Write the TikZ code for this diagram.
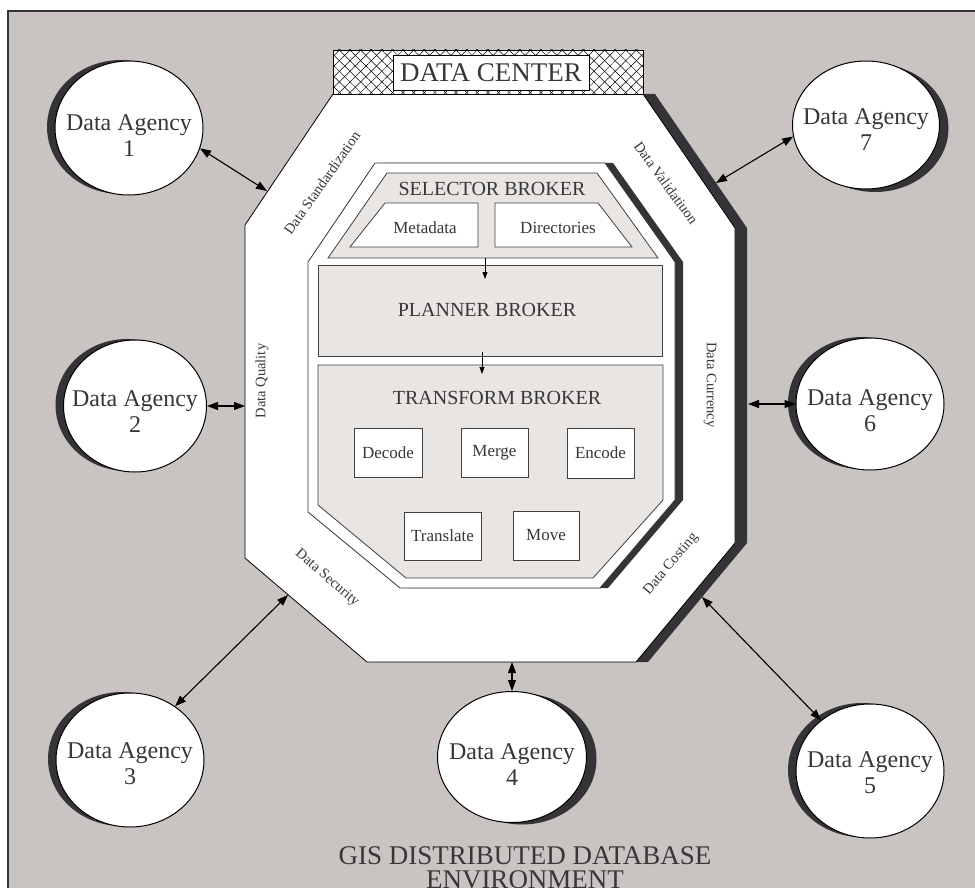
\documentclass[tikz,border=0pt]{standalone}
\usepackage{fontspec}
\setmainfont{Liberation Serif}
\usetikzlibrary{arrows.meta,patterns.meta,shapes.geometric}
\definecolor{bg}{RGB}{201,195,193}
\definecolor{lite}{RGB}{233,229,227}
\definecolor{dk}{RGB}{52,51,56}
\definecolor{txt}{RGB}{55,55,58}
\tikzset{
  agency/.style={ellipse, draw=black, fill=white, line width=1pt, inner sep=0pt},
  agshadow/.style={ellipse, fill=dk, inner sep=0pt},
  agtext/.style={align=center, font=\fontsize{24}{26}\selectfont, text=txt, inner sep=0pt},
  dblarrow/.style={{Triangle[length=11pt,width=8pt]}-{Triangle[length=11pt,width=8pt]}, line width=1.1pt, draw=black},
  smallarrow/.style={-{Triangle[length=7pt,width=5pt]}, line width=0.8pt},
  tbox/.style={draw=black!75, fill=white, line width=0.8pt, font=\fontsize{17}{20}\selectfont, text=txt, inner sep=0pt},
  side/.style={font=\fontsize{14.5}{16}\selectfont, text=txt, inner sep=0pt},
  brokertitle/.style={font=\fontsize{20}{22}\selectfont, text=txt, inner sep=0pt},
  brokerfill/.style={fill=lite, draw=black!75, line width=0.8pt},
  bigtitle/.style={font=\fontsize{27}{26}\selectfont, text=txt, inner sep=0pt},
}
\begin{document}
\begin{tikzpicture}[x=1pt,y=-1pt]
\useasboundingbox (0,0) rectangle (975,888);
\clip (0,0) rectangle (975,888);
\fill[white] (0,0) rectangle (975,888);
\draw[fill=bg, draw=dk, line width=2pt] (8,11) rectangle (990,900);

% outer octagon with shadow
\fill[dk, xshift=12pt] (333,94) -- (643,94) -- (735,228) -- (735,543) -- (636,662) -- (367,662) -- (245,558) -- (245,225) -- cycle;
\draw[fill=white, draw=black, line width=0.8pt] (333,94) -- (643,94) -- (735,228) -- (735,543) -- (636,662) -- (367,662) -- (245,558) -- (245,225) -- cycle;

% data center
\fill[white] (333,50) rectangle (643,94);
\fill[pattern={Lines[angle=45,distance=7.5pt,line width=0.5pt]}, pattern color=black] (333,50) rectangle (643,94);
\fill[pattern={Lines[angle=-45,distance=7.5pt,line width=0.5pt]}, pattern color=black] (333,50) rectangle (643,94);
\draw[black, line width=0.8pt] (333,50) rectangle (643,94);
\draw[fill=white, draw=black, line width=0.8pt] (393,55) rectangle (589,90);
\node[font=\fontsize{27}{28}\selectfont, text=txt, inner sep=0pt] (dc) at (491,73) {DATA CENTER};

% inner octagon with shadow
\fill[dk, xshift=8pt] (375,163) -- (605,163) -- (675,262) -- (675,500) -- (600,588) -- (400,588) -- (308,512) -- (308,262) -- cycle;
\draw[fill=white, draw=black!80, line width=0.8pt] (375,163) -- (605,163) -- (675,262) -- (675,500) -- (600,588) -- (400,588) -- (308,512) -- (308,262) -- cycle;

% selector broker
\draw[brokerfill] (387,173) -- (597,173) -- (658,258) -- (328,258) -- cycle;
\node[brokertitle] (sel) at (492,189) {SELECTOR BROKER};
\draw[fill=white, draw=black!75, line width=0.8pt] (385,203) -- (478,203) -- (478,247) -- (350,247) -- cycle;
\node[font=\fontsize{17}{20}\selectfont, text=txt, inner sep=0pt] (meta) at (425,228) {Metadata};
\draw[fill=white, draw=black!75, line width=0.8pt] (495,203) -- (598,203) -- (632,247) -- (495,247) -- cycle;
\node[font=\fontsize{17}{20}\selectfont, text=txt, inner sep=0pt] (dir) at (558,228) {Directories};

% planner broker
\draw[brokerfill] (318,265) rectangle (662,356);
\node[brokertitle] (plan) at (487,310) {PLANNER BROKER};

% transform broker
\draw[brokerfill] (318,365) -- (663,365) -- (663,500) -- (593,578) -- (406,578) -- (318,505) -- cycle;
\node[brokertitle] (trans) at (497,398) {TRANSFORM BROKER};
\node[tbox, minimum width=68pt, minimum height=49pt] (dec) at (388,452.5) {Decode};
\node[tbox, minimum width=67pt, minimum height=49pt] (mer) at (494.5,452.5) {Merge};
\node[tbox, minimum width=67pt, minimum height=50pt] (enc) at (600.5,453) {Encode};
\node[tbox, minimum width=77pt, minimum height=48pt] (tra) at (442.5,536) {Translate};
\node[tbox, minimum width=66pt, minimum height=49pt] (mov) at (546,535.5) {Move};

% internal arrows
\coordinate (s1) at (485,258);
\coordinate (p1) at (485,279);
\coordinate (p2) at (482,352);
\coordinate (t1) at (482,374);
\draw[smallarrow] (s1) -- (p1);
\draw[smallarrow] (p2) -- (t1);

% side labels
\node[side, rotate=55] (ls) at (322,183) {Data Standardization};
\node[side, rotate=-54] (lv) at (666,183) {Data Validatiuon};
\node[side, rotate=90] (lq) at (262,381) {Data Quality};
\node[side, rotate=-90] (lc) at (710,385) {Data Currency};
\node[side, rotate=-41] (lsec) at (327,578) {Data Security};
\node[side, rotate=50] (lcost) at (671,564) {Data Costing};

% agencies
\node[agshadow, minimum width=148pt, minimum height=134pt] (sh1) at (121,127) {};
\node[agency, minimum width=148pt, minimum height=134pt] (a1) at (129,128) {};
\node[agtext] (t1a) at (129,136) {Data Agency\\1};

\node[agshadow, minimum width=143pt, minimum height=132pt] (sh2) at (127,405) {};
\node[agency, minimum width=143pt, minimum height=132pt] (a2) at (135,406) {};
\node[agtext] (t2a) at (135,412) {Data Agency\\2};

\node[agshadow, minimum width=148pt, minimum height=134pt] (sh3) at (122,759) {};
\node[agency, minimum width=148pt, minimum height=134pt] (a3) at (130,760) {};
\node[agtext] (t3a) at (130,764) {Data Agency\\3};

\node[agshadow, minimum width=149pt, minimum height=131pt] (sh4) at (522,759) {};
\node[agency, minimum width=149pt, minimum height=131pt] (a4) at (512,757) {};
\node[agtext] (t4a) at (512,765) {Data Agency\\4};

\node[agshadow, minimum width=148pt, minimum height=134pt] (sh5) at (862,770) {};
\node[agency, minimum width=148pt, minimum height=134pt] (a5) at (870,771) {};
\node[agtext] (t5a) at (870,773) {Data Agency\\5};

\node[agshadow, minimum width=148pt, minimum height=132pt] (sh6) at (862,403) {};
\node[agency, minimum width=148pt, minimum height=132pt] (a6) at (870,404) {};
\node[agtext] (t6a) at (870,411) {Data Agency\\6};

\node[agshadow, minimum width=147pt, minimum height=128pt] (sh7) at (875,128) {};
\node[agency, minimum width=147pt, minimum height=128pt] (a7) at (866,125) {};
\node[agtext] (t7a) at (866,130) {Data Agency\\7};

% octagon connection points
\coordinate (o1) at (267,191);
\coordinate (o2) at (245,406);
\coordinate (o3) at (288,595);
\coordinate (o4) at (512,662);
\coordinate (o5) at (702,597);
\coordinate (o6) at (748,404);
\coordinate (o7) at (716,183);

\draw[dblarrow] (a1.344) -- (o1);
\draw[dblarrow] (a2.east) -- (o2);
\draw[dblarrow] (a3.50) -- (o3);
\draw[dblarrow] (a4.north) -- (o4);
\draw[dblarrow] (a5) -- (o5);
\draw[dblarrow] (a6.west) -- (o6);
\draw[dblarrow] (a7.189) -- (o7);

% title
\node[bigtitle, anchor=base] (g1) at (525,864) {GIS DISTRIBUTED DATABASE};
\node[bigtitle, anchor=base] (g2) at (525,888) {ENVIRONMENT};
\end{tikzpicture}
\end{document}
